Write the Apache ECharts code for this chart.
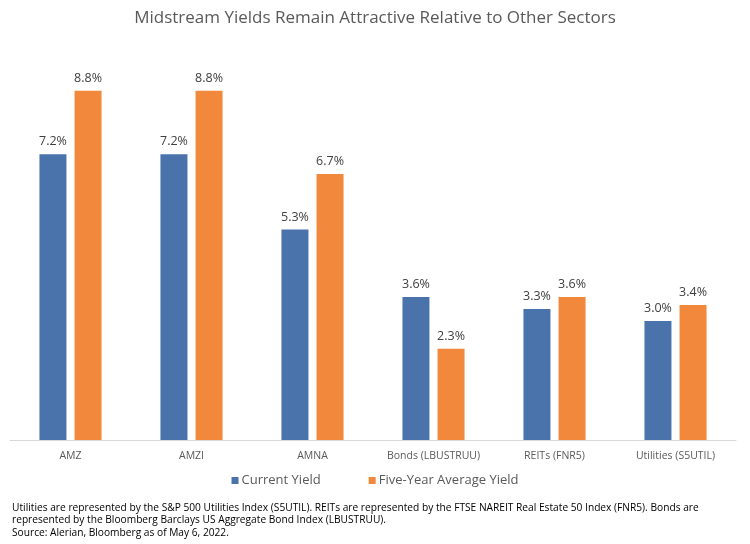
<!DOCTYPE html>
<html><head><meta charset="utf-8">
<script src="https://cdn.jsdelivr.net/npm/echarts@6/dist/echarts.min.js"></script>
<style>html,body{margin:0;padding:0;background:#fff;}#c{width:750px;height:544px;}</style>
</head><body><div id="c"></div>
<script>
const categories = ['AMZ', 'AMZI', 'AMNA', 'Bonds (LBUSTRUU)', 'REITs (FNR5)', 'Utilities (S5UTIL)'];
const currentYield = [7.2, 7.2, 5.3, 3.6, 3.3, 3.0];
const fiveYearAvgYield = [8.8, 8.8, 6.7, 2.3, 3.6, 3.4];
const seriesNames = ['Current Yield', 'Five-Year Average Yield'];
const footnotes = [
  'Utilities are represented by the S&P 500 Utilities Index (S5UTIL). REITs are represented by the FTSE NAREIT Real Estate 50 Index (FNR5). Bonds are',
  'represented by the Bloomberg Barclays US Aggregate Bond Index (LBUSTRUU).',
  'Source: Alerian, Bloomberg as of May 6, 2022.'
];
const FONT = '"Open Sans", "Noto Sans", sans-serif';
const chart = echarts.init(document.getElementById('c'));
const labelOpt = {
  show: true, position: 'top', distance: 6,
  color: '#404040', fontSize: 12.5, fontFamily: FONT,
  formatter: p => p.value.toFixed(1) + '%'
};
chart.setOption({
  animation: false,
  backgroundColor: '#fff',
  title: {
    text: 'Midstream Yields Remain Attractive Relative to Other Sectors',
    left: 'center', top: 5,
    textStyle: { color: '#595959', fontSize: 17, fontWeight: 'normal', fontFamily: FONT }
  },
  legend: {
    data: seriesNames, top: 469, left: 'center', itemGap: 48,
    itemWidth: 7, itemHeight: 7, icon: 'rect',
    textStyle: { color: '#595959', fontSize: 13, fontFamily: FONT, padding: [0, 0, 0, -2] }
  },
  grid: { left: 10, right: 14, top: 43, bottom: 104, containLabel: false },
  xAxis: {
    type: 'category', data: categories,
    axisLine: { lineStyle: { color: '#d9d9d9', width: 1 } },
    axisTick: { show: false },
    axisLabel: { interval: 0, color: '#595959', fontSize: 10.5, fontFamily: FONT, margin: 11 }
  },
  yAxis: { type: 'value', min: 0, max: 10, show: false, splitLine: { show: false } },
  series: [
    { name: seriesNames[0], type: 'bar', data: currentYield, barWidth: 27, barGap: '30%',
      itemStyle: { color: '#4A72AB' }, label: labelOpt },
    { name: seriesNames[1], type: 'bar', data: fiveYearAvgYield, barWidth: 27,
      itemStyle: { color: '#F2883C' }, label: labelOpt }
  ],
  graphic: footnotes.map((t, i) => ({
    type: 'text', left: 12, top: 503 + i * 12.5,
    style: { text: t, fill: '#000', fontSize: 10.2, fontFamily: FONT }
  }))
});
</script></body></html>
